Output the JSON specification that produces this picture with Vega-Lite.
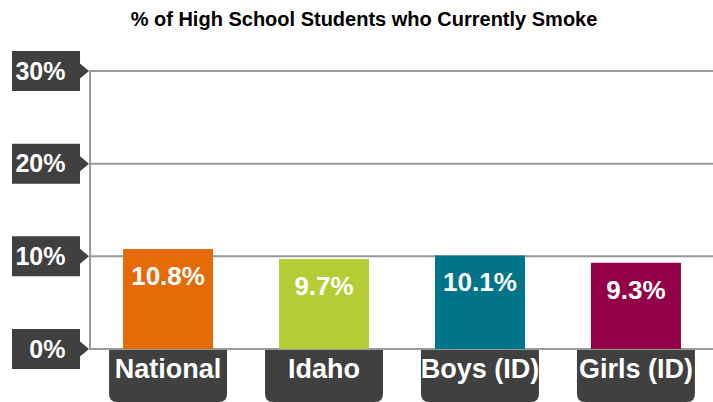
{
  "$schema": "https://vega.github.io/schema/vega-lite/v6.json",
  "width": 624,
  "height": 278,
  "autosize": "none",
  "padding": {"left": 90, "top": 71, "right": 0, "bottom": 53},
  "title": {
    "text": "% of High School Students who Currently Smoke",
    "font": "Liberation Sans",
    "fontSize": 20,
    "fontWeight": "bold",
    "color": "#000000",
    "anchor": "middle",
    "frame": "group",
    "dx": -38,
    "offset": 21
  },
  "config": {
    "font": "Liberation Sans",
    "view": {"stroke": "#999999", "strokeWidth": 2},
    "background": "#ffffff"
  },
  "layer": [
    {
      "data": {
        "values": [
          {"group": "National", "value": 0.108},
          {"group": "Idaho", "value": 0.097},
          {"group": "Boys (ID)", "value": 0.101},
          {"group": "Girls (ID)", "value": 0.093}
        ]
      },
      "layer": [
        {
          "data": {"values": [{"pct": 0}, {"pct": 0.1}, {"pct": 0.2}, {"pct": 0.3}]},
          "mark": {"type": "rule", "color": "#999999", "strokeWidth": 2},
          "encoding": {
            "y": {"field": "pct", "type": "quantitative", "axis": {"title": null}}
          }
        },
        {
          "mark": {"type": "bar"},
          "encoding": {
            "x": {
              "field": "group",
              "type": "nominal",
              "sort": null,
              "scale": {"paddingInner": 0.423, "paddingOuter": 0.212},
              "axis": {
                "title": null,
                "domain": false,
                "ticks": false,
                "labelAngle": 0,
                "labelFont": "Liberation Sans",
                "labelFontSize": 27,
                "labelFontWeight": "bold",
                "labelColor": "#ffffff",
                "labelPadding": 7,
                "zindex": 2
              }
            },
            "y": {
              "field": "value",
              "type": "quantitative",
              "scale": {"domain": [0, 0.3]},
              "axis": {
                "title": null,
                "values": [0, 0.1, 0.2, 0.3],
                "format": ".0%",
                "grid": false,
                "domain": false,
                "ticks": false,
                "labelFont": "Liberation Sans",
                "labelFontSize": 25,
                "labelFontWeight": "bold",
                "labelColor": "#ffffff",
                "labelPadding": 25,
                "zindex": 2
              }
            },
            "color": {
              "field": "group",
              "type": "nominal",
              "legend": null,
              "scale": {
                "domain": ["National", "Idaho", "Boys (ID)", "Girls (ID)"],
                "range": ["#E36C09", "#B5CC34", "#007589", "#930047"]
              }
            }
          }
        },
        {
          "mark": {
            "type": "text",
            "color": "#ffffff",
            "font": "Liberation Sans",
            "fontSize": 26,
            "fontWeight": "bold",
            "baseline": "middle",
            "dy": 28
          },
          "encoding": {
            "x": {"field": "group", "type": "nominal", "sort": null},
            "y": {"field": "value", "type": "quantitative", "axis": {"title": null}},
            "text": {"field": "value", "type": "quantitative", "format": ".1%"}
          }
        },
        {
          "mark": {
            "type": "point",
            "filled": true,
            "opacity": 1,
            "color": "#404040",
            "size": 14400,
            "shape": "M-0.983,0.017L0.983,0.017L0.983,0.75Q0.983,0.883 0.85,0.883L-0.85,0.883Q-0.983,0.883 -0.983,0.75Z",
            "clip": false
          },
          "encoding": {
            "x": {"field": "group", "type": "nominal", "sort": null},
            "y": {"datum": 0, "type": "quantitative", "axis": {"title": null}}
          }
        }
      ]
    },
    {
      "data": {"values": [{"pct": 0}, {"pct": 0.1}, {"pct": 0.2}, {"pct": 0.3}]},
      "mark": {
        "type": "point",
        "filled": true,
        "opacity": 1,
        "color": "#404040",
        "size": 24336,
        "shape": "M-1,-0.256L-0.128,-0.256L-0.128,-0.096L-0.013,0L-0.128,0.096L-0.128,0.256L-1,0.256Z",
        "clip": false
      },
      "encoding": {
        "x": {"datum": 0, "type": "quantitative", "scale": {"domain": [0, 1]}, "axis": null},
        "y": {"field": "pct", "type": "quantitative", "axis": {"title": null}}
      }
    }
  ],
  "resolve": {"scale": {"x": "independent"}}
}
